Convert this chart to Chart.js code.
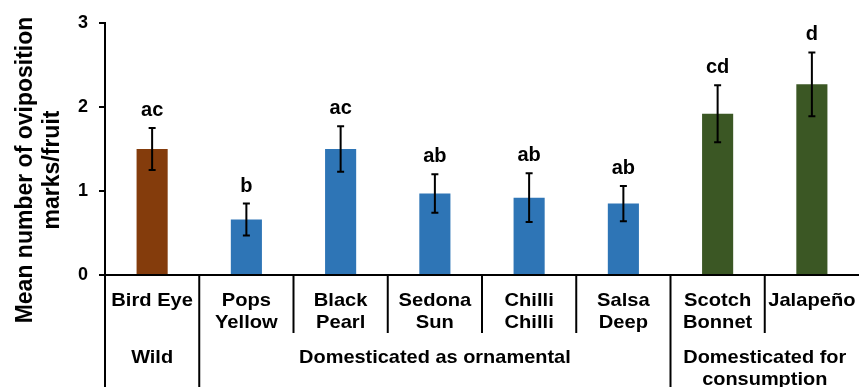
<!DOCTYPE html>
<html>
<head>
<meta charset="utf-8">
<script src="https://cdn.jsdelivr.net/npm/chart.js@4/dist/chart.umd.min.js"></script>
<style>
  html, body { margin: 0; padding: 0; background: #fff; }
  #wrap { width: 859px; height: 387px; }
</style>
</head>
<body>
<div id="wrap"><canvas id="chart" width="859" height="387"></canvas></div>
<script>
const categories = [['Bird Eye'], ['Pops', 'Yellow'], ['Black', 'Pearl'], ['Sedona', 'Sun'],
  ['Chilli', 'Chilli'], ['Salsa', 'Deep'], ['Scotch', 'Bonnet'], ['Jalapeño']];
const means = [1.50, 0.66, 1.50, 0.97, 0.92, 0.85, 1.92, 2.27];
const errors = [0.25, 0.19, 0.27, 0.23, 0.29, 0.21, 0.34, 0.38];
const letters = ['ac', 'b', 'ac', 'ab', 'ab', 'ab', 'cd', 'd'];
const groups = [['Wild'], ['Domesticated as ornamental'], ['Domesticated for', 'consumption']];
const groupSizes = [1, 5, 2];
const barColors = ['#843C0C', '#2E75B6', '#2E75B6', '#2E75B6', '#2E75B6', '#2E75B6', '#3B5724', '#3B5724'];
const yTicks = [0, 1, 2, 3];
const yTitle = ['Mean number of oviposition', 'marks/fruit'];

const FONT = '"Liberation Sans", Arial, sans-serif';
Chart.defaults.font.family = FONT;
Chart.defaults.color = '#000';

// text in the original is a little wider than Arial
function wideText(ctx, text, x, y, sx) {
  ctx.save();
  ctx.translate(x, y);
  ctx.scale(sx, 1);
  ctx.fillText(text, 0, 0);
  ctx.restore();
}

// error bars, significance letters, category and group labels, divider lines
const extras = {
  id: 'extras',
  afterDatasetsDraw(chart) {
    const ctx = chart.ctx;
    const x = chart.scales.x;
    const y = chart.scales.y;
    const area = chart.chartArea;
    const step = x.getPixelForValue(1) - x.getPixelForValue(0);
    const bottom = chart.height;

    ctx.save();
    ctx.strokeStyle = '#000';
    ctx.fillStyle = '#000';
    ctx.lineWidth = 2;
    ctx.textAlign = 'center';
    ctx.textBaseline = 'alphabetic';

    means.forEach((m, i) => {
      const cx = x.getPixelForValue(i);
      const top = y.getPixelForValue(m + errors[i]);
      const low = y.getPixelForValue(m - errors[i]);
      ctx.beginPath();
      ctx.moveTo(cx, top); ctx.lineTo(cx, low);
      ctx.moveTo(cx - 3.5, top); ctx.lineTo(cx + 3.5, top);
      ctx.moveTo(cx - 3.5, low); ctx.lineTo(cx + 3.5, low);
      ctx.stroke();

      ctx.font = 'bold 20px ' + FONT;
      ctx.fillText(letters[i], cx, top - 12);

      ctx.font = 'bold 19px ' + FONT;
      categories[i].forEach((line, k) => wideText(ctx, line, cx, 306 + k * 21.5, 1.06));
    });

    // dividers between categories
    let groupEdges = [0];
    groupSizes.reduce((acc, n) => { groupEdges.push(acc + n); return acc + n; }, 0);
    for (let i = 0; i < categories.length; i++) {
      const px = x.getPixelForValue(i) - step / 2;
      ctx.beginPath();
      ctx.moveTo(px, area.bottom);
      ctx.lineTo(px, groupEdges.includes(i) ? bottom : 333);
      ctx.stroke();
    }

    // group labels
    ctx.font = 'bold 19px ' + FONT;
    groups.forEach((lines, g) => {
      const a = x.getPixelForValue(groupEdges[g]) - step / 2;
      const b = x.getPixelForValue(groupEdges[g + 1]) - step / 2;
      lines.forEach((line, k) => wideText(ctx, line, (a + b) / 2, 363 + k * 22, 1.05));
    });

    // y title
    ctx.translate(26, 170);
    ctx.rotate(-Math.PI / 2);
    ctx.font = 'bold 23px ' + FONT;
    ctx.textBaseline = 'middle';
    yTitle.forEach((line, k) => ctx.fillText(line, 0, k * 27));
    ctx.restore();
  }
};

new Chart(document.getElementById('chart'), {
  type: 'bar',
  data: {
    labels: categories,
    datasets: [{
      data: means,
      backgroundColor: barColors,
      barPercentage: 0.33,
      categoryPercentage: 1
    }]
  },
  options: {
    responsive: false,
    animation: false,
    layout: { padding: { top: 23, right: 0, left: 0, bottom: 0 } },
    plugins: { legend: { display: false }, tooltip: { enabled: false } },
    scales: {
      x: {
        ticks: { display: false },
        grid: { display: false },
        border: { display: true, color: '#000', width: 2 },
        afterFit(scale) { scale.height = 112; }
      },
      y: {
        min: 0,
        max: 3,
        afterBuildTicks(scale) { scale.ticks = yTicks.map(v => ({ value: v })); },
        ticks: { font: { size: 18, weight: 'bold' }, color: '#000', padding: 11 },
        grid: { drawOnChartArea: false, drawTicks: true, tickLength: 6, color: '#000', lineWidth: 2 },
        border: { display: true, color: '#000', width: 2 },
        afterFit(scale) { scale.width = 105; }
      }
    }
  },
  plugins: [extras]
});
</script>
</body>
</html>
